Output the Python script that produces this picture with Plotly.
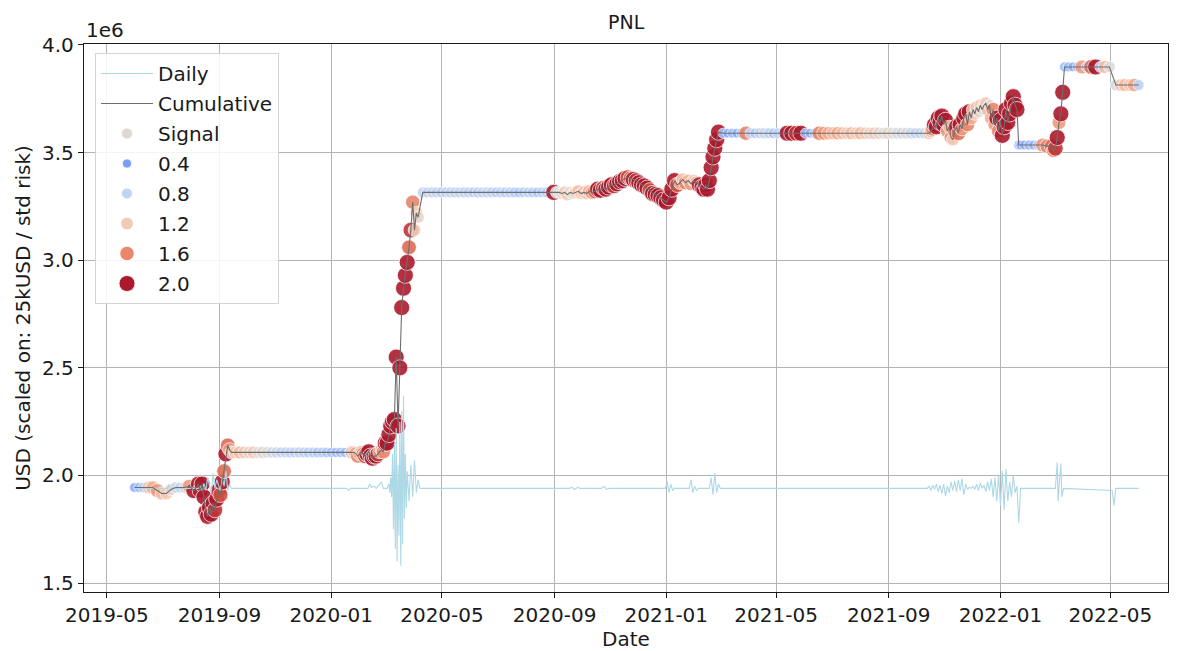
import pandas as pd
import plotly.graph_objects as go

BASE = pd.Timestamp("2019-05-01")  # day offsets below are counted from this date

# ---------------- scatter / cumulative data (day offset, cumulative PnL in 1e6 USD, signal) -------------
scatter_days = [
    30, 35, 40, 45, 50, 55, 60, 65, 70, 75, 80, 85, 90, 95, 100,
    102, 104, 106, 108, 110, 112, 114, 116, 118, 120, 122, 124, 126, 128, 130, 132, 134, 136,
    140, 145, 150, 155, 160, 165, 170, 175, 180, 185, 190, 195, 200, 205, 210, 215, 220, 225, 230, 235,
    240, 245, 250, 255, 260, 265,
    268, 270, 272, 274, 276, 278, 280, 282, 284, 286, 288, 290, 292, 294, 296, 298, 300, 302, 304, 306,
    308, 310, 312, 314, 316, 318, 320, 322, 324, 326, 328, 330, 332, 334, 336, 338, 340,
    345, 350, 355, 360, 365, 370, 375, 380, 385, 390, 395, 400, 405, 410, 415, 420, 425, 430, 435, 440,
    445, 450, 455, 460, 465, 470, 475, 480, 485,
    488, 491, 494, 497, 500, 503, 506, 509, 512, 515, 518, 521, 524, 527, 530, 533, 536, 539, 542, 545,
    548, 551, 554, 557, 560, 563, 566, 569, 572, 575, 578, 581, 584, 587, 590, 593, 596, 599, 602, 605,
    608, 611, 614, 617, 620, 623, 626, 629, 632, 635, 638, 641, 644, 647, 650,
    652, 654, 656, 658, 660, 662, 664, 666, 668,
    673, 678, 683, 688, 693, 698, 703, 708, 713, 718, 723, 728, 733, 738, 743, 748, 753, 758, 763, 768,
    773, 778, 783, 788, 793, 798, 803, 808, 813, 818, 823, 828, 833, 838, 843, 848, 853, 858, 863, 868,
    873, 878, 883, 888, 893, 898,
    900, 902, 904, 906, 908, 910, 912, 914, 916, 918, 920, 922, 924, 926, 928, 930, 932, 934, 936, 938,
    940, 942, 944, 946, 948, 950, 952, 954, 956, 958, 960, 962, 964, 966, 968, 970, 972, 974, 976, 978,
    980, 982, 984, 986, 988, 990, 992, 994, 996, 998,
    1002, 1007, 1012, 1017, 1022, 1027, 1032,
    1034, 1036, 1038, 1040, 1042, 1044, 1046,
    1050, 1055, 1060, 1065, 1070, 1075, 1080, 1085, 1090, 1095,
    1102, 1107, 1112, 1117, 1122, 1127,
]

cumulative = [
    1.944, 1.944, 1.944, 1.944, 1.944, 1.93, 1.916, 1.916, 1.935, 1.944, 1.944, 1.944, 1.95, 1.93, 1.96,
    1.93, 1.96, 1.90, 1.83, 1.81, 1.85, 1.82, 1.87, 1.84, 1.89, 1.93, 1.91, 1.97, 2.02, 2.10, 2.14, 2.12, 2.107,
    2.107, 2.107, 2.107, 2.107, 2.107, 2.107, 2.107, 2.107, 2.107, 2.107, 2.107, 2.107, 2.107, 2.107,
    2.107, 2.107, 2.107, 2.107, 2.107, 2.107, 2.107, 2.107, 2.107, 2.107, 2.107, 2.107,
    2.107, 2.107, 2.10, 2.09, 2.10, 2.11, 2.10, 2.09, 2.10, 2.11, 2.09, 2.08, 2.09, 2.09, 2.10, 2.11,
    2.12, 2.11, 2.15, 2.15, 2.19, 2.23, 2.25, 2.26, 2.55, 2.23, 2.50, 2.78, 2.87, 2.93, 2.99, 3.06,
    3.14, 3.27, 3.14, 3.22, 3.20,
    3.315, 3.315, 3.315, 3.315, 3.315, 3.315, 3.315, 3.315, 3.315, 3.315, 3.315, 3.315, 3.315, 3.315,
    3.315, 3.315, 3.315, 3.315, 3.315, 3.315, 3.315, 3.315, 3.315, 3.315, 3.315, 3.315, 3.315, 3.315, 3.315,
    3.315, 3.315, 3.315, 3.31, 3.315, 3.305, 3.315, 3.31, 3.315, 3.32,
    3.31, 3.315, 3.31, 3.32, 3.315, 3.32, 3.33, 3.325, 3.335, 3.33,
    3.34, 3.35, 3.345, 3.355, 3.365, 3.37, 3.38, 3.385, 3.38, 3.375,
    3.37, 3.36, 3.35, 3.345, 3.335, 3.325, 3.31, 3.305, 3.30, 3.29,
    3.28, 3.27, 3.29, 3.33, 3.37, 3.35, 3.36, 3.375, 3.36, 3.37,
    3.355, 3.37, 3.36, 3.35, 3.34,
    3.33, 3.35, 3.33, 3.37, 3.43, 3.48, 3.52, 3.56, 3.595,
    3.59, 3.59, 3.59, 3.59, 3.59, 3.59, 3.59, 3.59, 3.59, 3.59, 3.59, 3.59, 3.59, 3.59, 3.59, 3.59,
    3.59, 3.59, 3.59, 3.59, 3.59, 3.59, 3.59, 3.59, 3.59, 3.59, 3.59, 3.59, 3.59, 3.59, 3.59, 3.59,
    3.59, 3.59, 3.59, 3.59, 3.59, 3.59, 3.59, 3.59, 3.59, 3.59, 3.59, 3.59, 3.59, 3.59,
    3.60, 3.61, 3.63, 3.62, 3.66, 3.64, 3.67, 3.63, 3.65, 3.60,
    3.62, 3.57, 3.56, 3.60, 3.62, 3.59, 3.63, 3.61, 3.66, 3.68,
    3.63, 3.69, 3.66, 3.70, 3.68, 3.71, 3.69, 3.72, 3.70, 3.72,
    3.73, 3.70, 3.72, 3.66, 3.70, 3.63, 3.66, 3.60, 3.65, 3.58,
    3.62, 3.70, 3.64, 3.68, 3.73, 3.76, 3.72, 3.70, 3.535, 3.535,
    3.535, 3.535, 3.535, 3.535, 3.535, 3.53, 3.53,
    3.51, 3.52, 3.57, 3.64, 3.68, 3.78, 3.898,
    3.898, 3.898, 3.898, 3.898, 3.898, 3.898, 3.898, 3.898, 3.898, 3.898,
    3.814, 3.814, 3.814, 3.814, 3.814, 3.814,
]

signal = [
    0.5, 0.6, 0.7, 1.2, 1.4, 1.5, 1.3, 1.2, 1.1, 0.9, 0.8, 1.0, 1.5, 2.0, 2.0,
    2.0, 2.0, 2.0, 2.0, 2.0, 2.0, 2.0, 2.0, 1.9, 2.0, 2.0, 1.8, 2.0, 1.7, 2.0, 1.7, 1.5, 1.3,
    1.2, 1.3, 1.2, 1.1, 1.2, 1.0, 1.1, 1.0, 0.9, 0.9, 0.8, 0.85, 0.8, 0.8, 0.85, 0.8, 0.75, 0.8, 0.7, 0.75,
    0.7, 0.65, 0.6, 0.65, 0.6, 0.65,
    1.4, 1.3, 1.5, 1.6, 1.4, 1.3, 1.6, 1.8, 2.0, 2.0, 2.0, 2.0, 2.0, 2.0, 1.9, 1.5, 1.3, 1.6, 2.0, 2.0,
    2.0, 2.0, 2.0, 2.0, 2.0, 2.0, 2.0, 2.0, 2.0, 2.0, 2.0, 1.7, 1.9, 1.6, 1.2, 1.2, 1.1,
    0.85, 0.8, 0.85, 0.8, 0.75, 0.8, 0.85, 0.8, 0.8, 0.85, 0.8, 0.75, 0.8, 0.8, 0.85, 0.8, 0.75, 0.8,
    0.75, 0.8, 0.75, 0.7, 0.75, 0.8, 0.75, 0.7, 0.75, 0.8, 0.85,
    2.0, 1.0, 0.9, 1.1, 1.2, 1.2, 1.1, 1.0, 1.2, 1.3,
    1.2, 1.3, 1.2, 1.4, 1.5, 1.7, 2.0, 2.0, 1.8, 2.0,
    2.0, 2.0, 1.9, 2.0, 2.0, 2.0, 2.0, 1.8, 1.7, 2.0,
    1.9, 2.0, 2.0, 2.0, 2.0, 1.8, 2.0, 2.0, 2.0, 2.0,
    2.0, 2.0, 2.0, 2.0, 2.0, 1.8, 1.4, 1.3, 1.6, 1.3,
    1.5, 1.2, 1.4, 2.0, 2.0,
    2.0, 2.0, 2.0, 2.0, 2.0, 2.0, 2.0, 2.0, 2.0,
    0.6, 0.5, 0.6, 0.5, 0.7, 1.6, 0.8, 0.7, 0.8, 0.9, 0.8, 0.7, 0.8, 0.6, 2.0, 2.0,
    1.9, 2.0, 0.6, 0.5, 0.7, 1.6, 1.5, 1.4, 1.3, 1.4, 1.3, 1.2, 1.3, 1.2, 1.3, 1.2,
    1.1, 1.2, 1.1, 1.0, 1.1, 1.0, 1.0, 0.9, 1.0, 0.9, 0.8, 0.8, 0.9, 1.2,
    1.3, 1.6, 2.0, 2.0, 2.0, 2.0, 2.0, 2.0, 2.0, 1.5,
    1.3, 1.5, 1.2, 1.6, 2.0, 1.7, 2.0, 1.5, 2.0, 2.0,
    1.6, 2.0, 1.4, 1.3, 1.2, 1.3, 1.1, 1.2, 1.0, 1.1,
    1.2, 1.3, 1.0, 1.4, 1.6, 1.5, 2.0, 1.6, 2.0, 2.0,
    2.0, 2.0, 2.0, 2.0, 2.0, 2.0, 2.0, 2.0, 0.6, 0.5,
    0.5, 0.6, 0.5, 0.7, 1.5, 1.6, 1.7,
    1.6, 1.9, 2.0, 1.5, 2.0, 2.0, 0.6,
    0.6, 0.5, 0.6, 1.5, 0.7, 1.7, 2.0, 0.8, 1.3, 1.0,
    0.9, 1.2, 1.3, 1.2, 1.4, 0.8,
]

# ---------------- daily PnL line (day offset, value in 1e6 USD) ----------------
daily_days = [
    30, 66, 68, 70, 72, 100, 102, 104, 106, 108, 110, 112, 114, 116, 118, 120, 122, 124, 126, 128,
    130, 132, 134, 136,
    262, 264, 266, 285, 287, 289, 292, 294, 300, 302,
    306, 308, 309, 310, 311, 312, 313, 314, 315, 316, 317, 318, 319, 320, 321, 322, 323, 324, 325, 326,
    327, 328, 330, 332, 334, 336, 338, 340, 342,
    505, 508, 511, 514, 517, 540, 543, 546, 549,
    610, 612, 614, 616, 618, 620, 636, 638, 640, 642, 644, 646, 658, 660, 662, 664, 666, 668, 670,
    896, 898, 900, 902, 904, 906, 908, 910, 912, 914, 916, 918, 920, 922, 924, 926, 928, 930, 932, 934,
    936, 938, 940, 942, 944, 946, 948, 950, 952, 954, 956, 958, 960, 962, 964, 966, 968, 970, 972, 974,
    976, 978, 980, 982, 984, 986, 988, 990, 992, 994, 996, 998,
    1036, 1038, 1039, 1040, 1042, 1043, 1045,
    1098, 1100, 1102, 1127,
]

daily = [
    1.94, 1.94, 1.955, 1.93, 1.94, 1.94, 1.95, 1.93, 1.963, 1.93, 1.99, 1.95, 1.92, 2.01, 1.94, 1.98,
    1.95, 1.93, 1.99, 1.95, 2.02, 1.93, 1.96, 1.94,
    1.94, 1.93, 1.94, 1.94, 1.96, 1.945, 1.95, 1.94, 1.97, 1.94,
    1.94, 1.96, 1.92, 1.99, 1.90, 2.10, 1.75, 2.15, 1.66, 2.22, 1.60, 2.05, 1.72, 2.25, 1.58, 2.30,
    1.68, 2.37, 1.80, 2.10, 1.85, 2.02, 1.88, 2.05, 1.90, 2.07, 1.92, 1.98, 1.94,
    1.94, 1.945, 1.935, 1.945, 1.94, 1.94, 1.95, 1.935, 1.94,
    1.94, 1.97, 1.92, 1.96, 1.93, 1.94, 1.94, 1.98, 1.92, 1.95, 1.93, 1.94, 1.94, 1.99, 1.91, 2.01,
    1.92, 1.96, 1.94,
    1.94, 1.95, 1.93, 1.955, 1.935, 1.96, 1.925, 1.955, 1.915, 1.96, 1.905, 1.95, 1.92, 1.97, 1.93,
    1.975, 1.925, 1.98, 1.93, 1.985, 1.91, 1.96, 1.935, 1.945, 1.94, 1.95, 1.935, 1.96, 1.93, 1.965,
    1.94, 1.955, 1.925, 1.97, 1.93, 1.985, 1.90, 1.99, 1.88, 2.00, 1.86, 2.02, 1.84, 2.03, 1.88, 1.97,
    1.90, 2.00, 1.92, 1.95, 1.78, 1.94,
    1.94, 2.06, 1.88, 1.95, 2.055, 1.90, 1.94,
    1.93, 1.86, 1.94, 1.94,
]

signal_legend = [0.4, 0.8, 1.2, 1.6, 2.0]
x_tick_dates = ["2019-05-01", "2019-09-01", "2020-01-01", "2020-05-01", "2020-09-01",
                "2021-01-01", "2021-05-01", "2021-09-01", "2022-01-01", "2022-05-01"]
x_tick_labels = ["2019-05", "2019-09", "2020-01", "2020-05", "2020-09",
                 "2021-01", "2021-05", "2021-09", "2022-01", "2022-05"]
y_ticks = [1.5, 2.0, 2.5, 3.0, 3.5, 4.0]

assert len(scatter_days) == len(cumulative) == len(signal), (len(scatter_days), len(cumulative), len(signal))
assert len(daily_days) == len(daily), (len(daily_days), len(daily))

# ---------------- styling ----------------
FONT = "DejaVu Sans"
FS = 20
TXT = "#1a1a1a"
COOLWARM = [
    [0.0, "#3b4cc0"], [0.1, "#5977e3"], [0.2, "#7b9ff9"], [0.3, "#9ebeff"], [0.4, "#c0d4f5"],
    [0.5, "#dddcdc"], [0.6, "#f2cbb7"], [0.7, "#f5ad90"], [0.8, "#e8876b"], [0.9, "#cf5142"],
    [1.0, "#aa1a2c"],
]
SIG_MIN, SIG_MAX = 0.0, 2.0

# the page body has an 8px default margin, so the figure is drawn 8px smaller and placed at (8, 8)
OFF = 8
FIG_W, FIG_H = 1181 - OFF, 651 - OFF
PLOT_L, PLOT_R, PLOT_T, PLOT_B = 84 - OFF, 1168 - OFF, 44 - OFF, 592 - OFF
PLOT_H = PLOT_B - PLOT_T


def to_dates(days):
    return [BASE + pd.Timedelta(days=d) for d in days]


def marker_size(s):
    return 7.5 + 4.3 * s


scatter_dates = to_dates(scatter_days)
daily_dates = to_dates(daily_days)

fig = go.Figure()

# signal scatter (drawn first, lines on top as in the reference)
fig.add_trace(go.Scatter(
    x=scatter_dates, y=cumulative, mode="markers", showlegend=False, hoverinfo="skip",
    marker=dict(color=signal, colorscale=COOLWARM, cmin=SIG_MIN, cmax=SIG_MAX,
                size=[marker_size(s) for s in signal], opacity=0.9,
                line=dict(color="white", width=0.8)),
))

fig.add_trace(go.Scatter(
    x=daily_dates, y=daily, mode="lines", name="Daily",
    line=dict(color="#add8e6", width=1.1), legendrank=1, legendgroup="a",
))
fig.add_trace(go.Scatter(
    x=scatter_dates, y=cumulative, mode="lines", name="Cumulative",
    line=dict(color="#6e6e6e", width=1.1), legendrank=2, legendgroup="b",
))

# legend entries for the hue / size mapping
fig.add_trace(go.Scatter(
    x=[None], y=[None], mode="markers", name="Signal", legendrank=3, legendgroup="c",
    marker=dict(color="#ddd8d4", size=11, line=dict(color="white", width=0.8)),
))
for i, s in enumerate(signal_legend):
    fig.add_trace(go.Scatter(
        x=[None], y=[None], mode="markers", name=f"{s:.1f}", legendrank=4 + i,
        legendgroup=f"s{i}",
        marker=dict(color=[s], colorscale=COOLWARM, cmin=SIG_MIN, cmax=SIG_MAX,
                    size=marker_size(s), line=dict(color="white", width=0.8)),
    ))

axis_common = dict(
    showline=True, mirror=True, linecolor=TXT, linewidth=1.3,
    showgrid=True, gridcolor="#b4b4b4", gridwidth=1.4,
    ticks="outside", ticklen=5, tickwidth=1.3, tickcolor=TXT,
    tickfont=dict(family=FONT, size=FS, color=TXT),
    zeroline=False, automargin=False,
)

fig.update_layout(
    width=FIG_W, height=FIG_H,
    margin=dict(l=PLOT_L, r=FIG_W - PLOT_R, t=PLOT_T, b=FIG_H - PLOT_B, autoexpand=False),
    paper_bgcolor="white", plot_bgcolor="white",
    font=dict(family=FONT, size=FS, color=TXT),
    xaxis=dict(
        **axis_common,
        type="date",
        range=[BASE + pd.Timedelta(days=-25), BASE + pd.Timedelta(days=1159)],
        tickvals=x_tick_dates, ticktext=x_tick_labels,
        title=dict(text="Date", standoff=8, font=dict(family=FONT, size=FS)),
    ),
    yaxis=dict(
        **axis_common,
        range=[1.4585, 4.0046],
        tickvals=y_ticks, ticktext=[f"{v:.1f}" for v in y_ticks],
        title=dict(text="USD (scaled on: 25kUSD / std risk)", standoff=6,
                   font=dict(family=FONT, size=FS)),
    ),
    legend=dict(
        x=11 / (PLOT_R - PLOT_L), y=1 - 9 / PLOT_H, xanchor="left", yanchor="top",
        bgcolor="rgba(255,255,255,0.85)", bordercolor="#d5d5d5", borderwidth=1,
        font=dict(family=FONT, size=FS, color=TXT),
        tracegroupgap=1, itemsizing="trace", itemwidth=52,
    ),
    annotations=[
        dict(text="PNL", xref="paper", yref="paper", x=0.5, y=1 + 22 / PLOT_H,
             xanchor="center", yanchor="middle", showarrow=False,
             font=dict(family=FONT, size=19, color=TXT)),
        dict(text="1e6", xref="paper", yref="paper", x=0, y=1 + 14 / PLOT_H,
             xanchor="left", yanchor="middle", showarrow=False,
             font=dict(family=FONT, size=FS, color=TXT)),
    ],
    showlegend=True,
)

fig.write_html("out.html")
